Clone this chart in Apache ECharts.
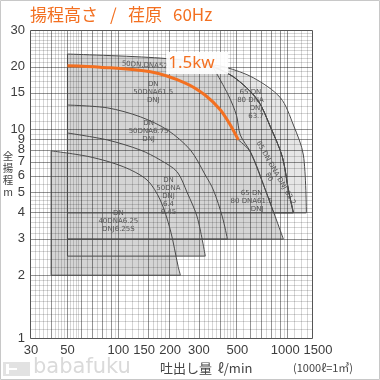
<!DOCTYPE html>
<html>
<head>
<meta charset="utf-8">
<script src="https://cdn.jsdelivr.net/npm/echarts@6.0.0/dist/echarts.min.js"></script>
<style>
html,body{margin:0;padding:0;background:#fff;}
#chart{width:380px;height:380px;}
</style>
</head>
<body>
<div id="chart"></div>
<script>
// ---------- axis tick labels ----------
const xTickValues = [30, 50, 100, 150, 200, 300, 500, 1000, 1500];
const xTickShift = [1, 0, 0, -4, 1, 0, 1, -2, 1];   // small label nudges (px) as in the original
const yTickValues = [1, 2, 3, 4, 5, 6, 7, 8, 9, 10, 15, 20, 30];
const xMajorLines = [40, 50, 60, 70, 80, 90, 100, 150, 200, 300, 400, 500, 600, 700, 800, 900, 1000];
const yMajorLines = [2, 3, 4, 5, 6, 7, 8, 9, 10, 15, 20];

// ---------- pump ranges (Q l/min, H m) ----------
// 40DN 6.25
const r40CurveQ = [40, 68, 107, 148, 177, 203, 226, 233];
const r40CurveH = [7.9, 7.39, 6.63, 5.72, 4.59, 3.3, 2.2, 2.0];
const r40EdgeQ = [233, 40, 40];
const r40EdgeH = [2.0, 2.0, 7.9];
// 50DN 6.4
const r504CurveQ = [50, 86, 135, 177, 223, 256, 293, 327];
const r504CurveH = [9.62, 8.91, 7.97, 7.14, 6.26, 4.96, 3.8, 2.47];
const r504EdgeQ = [327, 50, 50];
const r504EdgeH = [2.47, 2.47, 9.62];
// 50DN 6.75
const r5075CurveQ = [50, 86, 135, 195, 267, 327, 365, 413, 442];
const r5075CurveH = [13.1, 12.7, 11.5, 9.95, 7.97, 6.05, 5.13, 3.8, 2.98];
const r5075EdgeQ = [442, 50, 50];
const r5075EdgeH = [2.98, 2.98, 13.1];
// 1.5kW (orange curve) and its lower continuation
const kw15Q = [50, 78, 155, 249, 327, 402, 460, 513];
const kw15H = [20.2, 19.9, 18.9, 16.7, 14.6, 12.4, 10.5, 8.91];
const r15LowQ = [513, 605, 742, 948];
const r15LowH = [8.91, 7.8, 5.13, 2.98];
const r15EdgeQ = [948, 50, 50];
const r15EdgeH = [2.98, 2.98, 20.2];
// 50DN 52.2 (top line + second curve)
const r22CurveQ = [50, 177, 327, 479, 665, 794, 935, 1015, 1087];
const r22CurveH = [23.0, 22.0, 20.6, 17.9, 13.9, 10.3, 7.38, 5.13, 3.98];
const r22EdgeQ = [1087, 50, 50];
const r22EdgeH = [3.98, 3.98, 23.0];
// 65DN 63.7 outer curve
const r37CurveQ = [327, 430, 630, 910, 1087, 1245, 1297];
const r37CurveH = [20.6, 19.9, 17.7, 14.2, 10.5, 7.54, 3.98];
// 65DN 62.2 inner curve
const r652CurveQ = [360, 448, 500, 527, 605, 742, 830];
const r652CurveH = [20.2, 14.6, 11.7, 9.41, 7.8, 5.13, 3.98];

// ---------- region labels ----------
const labelTexts = ['50DN,DNA52.2', 'DN\n50DNA61.5\nDNJ', 'DN\n50DNA6.75\nDNJ', 'DN\n50DNA\nDNJ\n6.4\n6.45',
  'DN\n40DNA6.25\nDNJ6.25S', '65 DN\n80 DNA\n     DNJ\n     63.7', '65 DN\n80 DNA61.5\n     DNJ', '65 DN DNA DNJ 62.2\n80'];
const labelQ = [150, 161, 151, 198, 100, 605, 615, 816];
const labelH = [20.3, 15.1, 9.83, 4.8, 3.64, 13.25, 4.54, 6.05];
const labelRot = [-0.06, 0, 0, 0, 0, 0, 0, -1.05];

const X_MIN = 30, X_MAX = 1400, Y_MIN = 1, Y_MAX = 30;
const ORANGE = '#f37021';

function rev(a) { return a.slice().reverse(); }
function steps(a, b, s) { const o = []; for (let v = a + s; v < b - 1e-9; v += s) o.push(+v.toFixed(4)); return o; }

const regions = [
  {fill: '#d4d4d4', segs: [{q: r40CurveQ, h: r40CurveH, s: true}, {q: r40EdgeQ, h: r40EdgeH, s: false}]},
  {fill: '#d4d4d4', segs: [{q: r504CurveQ, h: r504CurveH, s: true}, {q: r504EdgeQ, h: r504EdgeH, s: false}]},
  {fill: '#d4d4d4', segs: [{q: r5075CurveQ, h: r5075CurveH, s: true}, {q: r5075EdgeQ, h: r5075EdgeH, s: false}]},
  {fill: '#d4d4d4', segs: [{q: kw15Q, h: kw15H, s: true}, {q: r15LowQ, h: r15LowH, s: true}, {q: r15EdgeQ, h: r15EdgeH, s: false}]},
  {fill: '#d4d4d4', segs: [{q: r22CurveQ, h: r22CurveH, s: true}, {q: r22EdgeQ, h: r22EdgeH, s: false}]},
  {fill: '#e6e6e6', segs: [{q: r37CurveQ, h: r37CurveH, s: true}, {q: [1297, 1087], h: [3.98, 3.98], s: false},
   {q: rev(r22CurveQ.slice(2)), h: rev(r22CurveH.slice(2)), s: true}]},
  {fill: '#d9d9d9', segs: [{q: r652CurveQ, h: r652CurveH, s: true}, {q: [830, 1087], h: [3.98, 3.98], s: false},
   {q: rev(r22CurveQ.slice(3)).concat([360]), h: rev(r22CurveH.slice(3)).concat([20.2]), s: true}]}
];

const xMinor = [].concat(steps(30, 60, 2), steps(60, 100, 5), steps(100, 200, 10), steps(200, 500, 20),
  steps(500, 1000, 50), steps(1000, 1400, 100)).filter(v => !xMajorLines.includes(v));
const yMinor = [].concat(steps(1, 2, 0.1), steps(2, 5, 0.2), steps(5, 10, 0.5), steps(10, 20, 1),
  steps(20, 30, 1)).filter(v => !yMajorLines.includes(v));
const gridLines = [].concat(
  xMinor.map(v => ({v, d: 'x', m: false})), yMinor.map(v => ({v, d: 'y', m: false})),
  xMajorLines.map(v => ({v, d: 'x', m: true})), yMajorLines.map(v => ({v, d: 'y', m: true})));

function crisp(v) { return Math.round(v) + 0.5; }
function segPoints(api, seg) { return seg.q.map((q, k) => api.coord([q, seg.h[k]])); }

const chart = echarts.init(document.getElementById('chart'), null, {renderer: 'canvas'});
chart.setOption({
  animation: false,
  grid: {left: 30, right: 68, top: 30, bottom: 42},
  xAxis: {type: 'log', logBase: 10, min: X_MIN, max: X_MAX, axisLine: {show: false}, axisTick: {show: false},
    axisLabel: {show: false}, splitLine: {show: false}, minorSplitLine: {show: false}},
  yAxis: {type: 'log', logBase: 10, min: Y_MIN, max: Y_MAX, axisLine: {show: false}, axisTick: {show: false},
    axisLabel: {show: false}, splitLine: {show: false}, minorSplitLine: {show: false}},
  graphic: [
    {type: 'rect', shape: {x: 0.5, y: 0.5, width: 379, height: 379}, style: {fill: null, stroke: '#c8c8c8', lineWidth: 1}, z: 100},
    {type: 'text', x: 30, y: 15, style: {text: '揚程高さ', fill: ORANGE, fontSize: 17, fontFamily: 'Noto Sans CJK JP', verticalAlign: 'middle'}},
    {type: 'text', x: 110, y: 15, style: {text: '/', fill: ORANGE, fontSize: 17, fontFamily: 'Noto Sans CJK JP', verticalAlign: 'middle'}},
    {type: 'text', x: 128, y: 15, style: {text: '荏原', fill: ORANGE, fontSize: 17, fontFamily: 'Noto Sans CJK JP', verticalAlign: 'middle'}},
    {type: 'text', x: 173, y: 15, style: {text: '60Hz', fill: ORANGE, fontSize: 17, fontFamily: 'Noto Sans CJK JP', verticalAlign: 'middle'}},
    {type: 'text', x: 8, y: 150, style: {text: '全\n揚\n程\nm', fill: '#444', fontSize: 10.5, lineHeight: 12, fontFamily: 'Noto Sans CJK JP', align: 'center', verticalAlign: 'top'}},
    {type: 'text', x: 160, y: 368, style: {text: '吐出し量  ℓ/min', fill: '#444', fontSize: 13, fontFamily: 'Noto Sans CJK JP', verticalAlign: 'middle'}},
    {type: 'text', x: 293, y: 368, style: {text: '(1000ℓ=1㎥)', fill: '#444', fontSize: 11, fontFamily: 'Noto Sans CJK JP', verticalAlign: 'middle'}},
    {type: 'rect', shape: {x: 3, y: 362, width: 27, height: 14}, style: {fill: '#e2e2e2'}},
    {type: 'rect', shape: {x: 6, y: 364, width: 3, height: 10}, style: {fill: '#fff'}},
    {type: 'rect', shape: {x: 9, y: 368, width: 8, height: 2}, style: {fill: '#fff'}},
    {type: 'text', x: 33, y: 368, style: {text: 'babafuku', fill: '#dadada', fontSize: 21, fontFamily: 'DejaVu Sans', verticalAlign: 'middle'}}
  ],
  series: [
    {
      type: 'custom', silent: true, z: 1,
      data: regions.map(r => [r.segs[0].q[0], r.segs[0].h[0]]),
      renderItem: function (params, api) {
        const r = regions[params.dataIndex];
        const pts = [];
        r.segs.forEach(seg => segPoints(api, seg).forEach(p => pts.push(p)));
        return {type: 'polygon', shape: {points: pts}, style: {fill: r.fill, stroke: null}};
      }
    },
    {
      type: 'custom', silent: true, z: 2,
      data: gridLines.map(g => g.d === 'x' ? [g.v, Y_MIN] : [X_MIN, g.v]),
      renderItem: function (params, api) {
        const g = gridLines[params.dataIndex];
        let p1, p2;
        if (g.d === 'x') { p1 = api.coord([g.v, Y_MIN]); p2 = api.coord([g.v, Y_MAX]); const x = crisp(p1[0]); p1[0] = x; p2[0] = x; }
        else { p1 = api.coord([X_MIN, g.v]); p2 = api.coord([X_MAX, g.v]); const y = crisp(p1[1]); p1[1] = y; p2[1] = y; }
        return {type: 'line', shape: {x1: p1[0], y1: p1[1], x2: p2[0], y2: p2[1]},
          style: {stroke: g.m ? 'rgba(0,0,0,0.42)' : 'rgba(0,0,0,0.16)', lineWidth: 1}};
      }
    },
    {
      type: 'custom', silent: true, z: 3,
      data: regions.map(r => [r.segs[0].q[0], r.segs[0].h[0]]),
      renderItem: function (params, api) {
        const r = regions[params.dataIndex];
        return {type: 'group', children: r.segs.map(seg => ({type: 'polyline',
          shape: {points: segPoints(api, seg), smooth: seg.s ? 0.3 : 0},
          style: {stroke: '#4a4a4a', lineWidth: 1, fill: null}}))};
      }
    },
    {
      type: 'custom', silent: true, z: 3,
      data: [[X_MIN, Y_MAX]],
      renderItem: function (params, api) {
        const a = api.coord([X_MIN, Y_MAX]), b = api.coord([X_MAX, Y_MIN]);
        return {type: 'rect', shape: {x: crisp(a[0]), y: crisp(a[1]), width: Math.round(b[0] - a[0]), height: Math.round(b[1] - a[1])},
          style: {fill: null, stroke: '#555', lineWidth: 1}};
      }
    },
    {
      type: 'line', z: 5, smooth: 0.3, symbol: 'none', silent: true,
      data: kw15Q.map((q, i) => [q, kw15H[i]]),
      lineStyle: {color: ORANGE, width: 3}
    },
    {
      type: 'custom', silent: true, z: 6,
      data: labelTexts.map((t, i) => [labelQ[i], labelH[i]]),
      renderItem: function (params, api) {
        const i = params.dataIndex;
        const p = api.coord([labelQ[i], labelH[i]]);
        return {type: 'text', x: p[0], y: p[1], rotation: labelRot[i],
          style: {text: labelTexts[i], fill: '#555', fontSize: 7, lineHeight: 8, fontFamily: 'DejaVu Sans',
            align: 'center', verticalAlign: 'middle'}};
      }
    },
    {
      type: 'custom', silent: true, z: 7,
      data: [[192, 23.5]],
      renderItem: function (params, api) {
        const p = api.coord([192, 23.5]);
        return {type: 'group', children: [
          {type: 'rect', shape: {x: p[0], y: p[1], width: 62, height: 22}, style: {fill: 'rgba(255,255,255,0.92)'}},
          {type: 'text', x: p[0] + 2, y: p[1] + 11, style: {text: '1.5kw', fill: ORANGE, fontSize: 17,
            fontFamily: 'Noto Sans', verticalAlign: 'middle'}}
        ]};
      }
    },
    {
      type: 'custom', silent: true, z: 8, clip: false,
      data: xTickValues.map(v => [v, Y_MIN]),
      renderItem: function (params, api) {
        const i = params.dataIndex;
        const p = api.coord([xTickValues[i], Y_MIN]);
        return {type: 'text', x: p[0] + xTickShift[i], y: p[1] + 12, style: {text: String(xTickValues[i]), fill: '#3c3c3c', fontSize: 13,
          fontFamily: 'Liberation Sans', align: 'center', verticalAlign: 'middle'}};
      }
    },
    {
      type: 'custom', silent: true, z: 8, clip: false,
      data: yTickValues.map(v => [X_MIN, v]),
      renderItem: function (params, api) {
        const v = yTickValues[params.dataIndex];
        const p = api.coord([X_MIN, v]);
        return {type: 'text', x: p[0] - 5, y: p[1], style: {text: String(v), fill: '#3c3c3c', fontSize: 13,
          fontFamily: 'Liberation Sans', align: 'right', verticalAlign: 'middle'}};
      }
    }
  ]
});
</script>
</body>
</html>
